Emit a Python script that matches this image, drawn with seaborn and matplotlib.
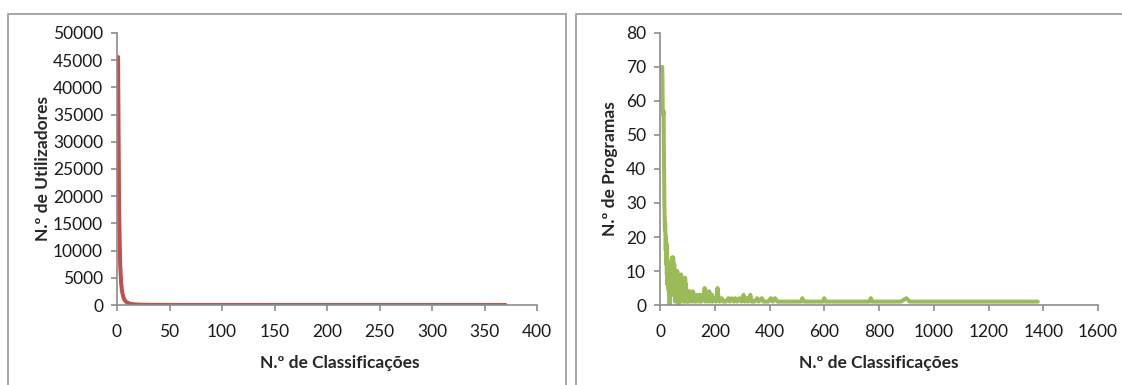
"""Two rating-count distributions, Excel style, drawn with seaborn."""
import matplotlib
matplotlib.use('Agg')
import matplotlib.pyplot as plt
from matplotlib.lines import Line2D
import pandas as pd
import seaborn as sns

# users: number of ratings -> number of users
user_ratings = [1, 2, 3, 4, 5, 6, 7, 8, 9, 10, 12, 14, 16, 18, 20, 25, 30,
                40, 50, 70, 100, 150, 200, 250, 300, 370]
user_counts = [45600, 17000, 7500, 3900, 2300, 1500, 1000, 720, 540, 410,
               260, 180, 130, 100, 80, 50, 35, 20, 13, 7, 4, 2, 1, 1, 1, 1]

# programs: number of ratings -> number of programs
prog_ratings = [1, 2, 3, 4, 5, 6, 7, 8, 9, 10, 11, 12, 13, 14, 15, 16, 17,
                18, 19, 20, 21, 22, 23, 24, 25, 26, 27, 28, 29, 30, 31, 32,
                33, 34, 35, 36, 37, 38, 40, 41, 42, 44, 45, 46, 48, 49, 50,
                52, 53, 55, 56, 58, 60, 61, 63, 65, 66, 68, 70, 72, 73, 75,
                77, 78, 80, 82, 84, 85, 87, 89, 90, 92, 94, 95, 97, 99, 101,
                103, 105, 107, 110, 112, 115, 117, 120, 123, 126, 130, 133,
                136, 140, 143, 146, 150, 155, 160, 163, 166, 170, 173, 176,
                180, 183, 186, 190, 193, 200, 205, 210, 214, 218, 225, 232,
                240, 250, 255, 262, 270, 275, 282, 290, 298, 305, 310, 318,
                322, 330, 335, 345, 355, 360, 372, 378, 395, 405, 412, 420,
                430, 440, 515, 520, 525, 595, 600, 605, 765, 770, 775, 880,
                900, 912, 1000, 1380]
prog_counts = [70, 70, 70, 70, 70, 70, 69, 70, 66, 57, 57, 56, 57, 48, 38,
               30, 25, 22, 24, 20, 16, 20, 12, 18, 9, 14, 6, 13, 7, 5, 11, 4,
               7, 5, 0, 8, 5, 3, 12, 6, 3, 14, 7, 4, 14, 9, 3, 12, 6, 1, 10,
               4, 7, 2, 10, 3, 6, 0, 8, 3, 5, 1, 9, 4, 2, 8, 5, 1, 7, 3, 1, 8,
               2, 6, 1, 4, 1, 3, 4, 1, 4, 2, 3, 1, 4, 2, 1, 3, 1, 3, 2, 1, 3,
               1, 3, 2, 5, 1, 4, 2, 1, 4, 2, 1, 3, 1, 2, 1, 5, 2, 1, 2, 1, 1,
               2, 1, 2, 1, 2, 1, 2, 1, 3, 1, 2, 1, 3, 1, 1, 2, 1, 2, 1, 1, 2,
               1, 2, 1, 1, 1, 2, 1, 1, 2, 1, 1, 2, 1, 1, 2, 1, 1, 1]

users_df = pd.DataFrame({'ratings': user_ratings, 'count': user_counts})
progs_df = pd.DataFrame({'ratings': prog_ratings, 'count': prog_counts})

sns.set_style('ticks')
plt.rcParams['font.family'] = ['Lato', 'DejaVu Sans']
FS = 12.5

GRAY = '#8C8C8C'
BOX = '#A6A6A6'

fig = plt.figure(figsize=(11.22, 3.85), dpi=100)

# panel frames (boxes run off the bottom/right edge of the picture)
def frame(x0, x1):
    top = 1 - 14 / 385
    for xs, ys in (([x0, x1], [top, top]), ([x0, x0], [top, -0.1]),
                   ([x1, x1], [top, -0.1])):
        fig.add_artist(Line2D(xs, ys, transform=fig.transFigure,
                              color=BOX, lw=1.4, clip_on=False))

frame(8 / 1122, 566 / 1122)
frame(576 / 1122, 1.2)

ax1 = fig.add_axes([117 / 1122, 80 / 385, 420 / 1122, 272 / 385])
ax2 = fig.add_axes([660 / 1122, 80 / 385, 438 / 1122, 272 / 385])

sns.lineplot(data=users_df, x='ratings', y='count', ax=ax1,
             color='#C0504D', lw=2.9, estimator=None)
sns.lineplot(data=progs_df, x='ratings', y='count', ax=ax2,
             color='#9BBB59', lw=2.9, estimator=None, sort=False)

ax1.set(xlim=(0, 400), ylim=(0, 50000),
        xticks=range(0, 401, 50), yticks=range(0, 50001, 5000))
ax2.set(xlim=(0, 1600), ylim=(0, 80),
        xticks=range(0, 1601, 200), yticks=range(0, 81, 10))

labels = [('N.º de Utilizadores', -0.158, 0.531),
          ('N.º de Programas', -0.097, 0.5)]
for ax, (ylab, ylx, xlx) in zip((ax1, ax2), labels):
    for side in ('top', 'right'):
        ax.spines[side].set_visible(False)
    for side in ('left', 'bottom'):
        ax.spines[side].set_color(GRAY)
        ax.spines[side].set_linewidth(1.2)
    ax.tick_params(colors=GRAY, labelcolor='#1a1a1a', length=4, width=1.2,
                   labelsize=FS)
    ax.tick_params(axis='x', pad=10)
    ax.tick_params(axis='y', pad=6)
    ax.set_xlabel('N.º de Classificações', fontweight='bold', fontsize=FS)
    ax.set_ylabel(ylab, fontweight='bold', fontsize=FS)
    ax.xaxis.set_label_coords(xlx, -0.185)
    ax.yaxis.set_label_coords(ylx, 0.5)

fig.savefig('out.png', dpi=100)
